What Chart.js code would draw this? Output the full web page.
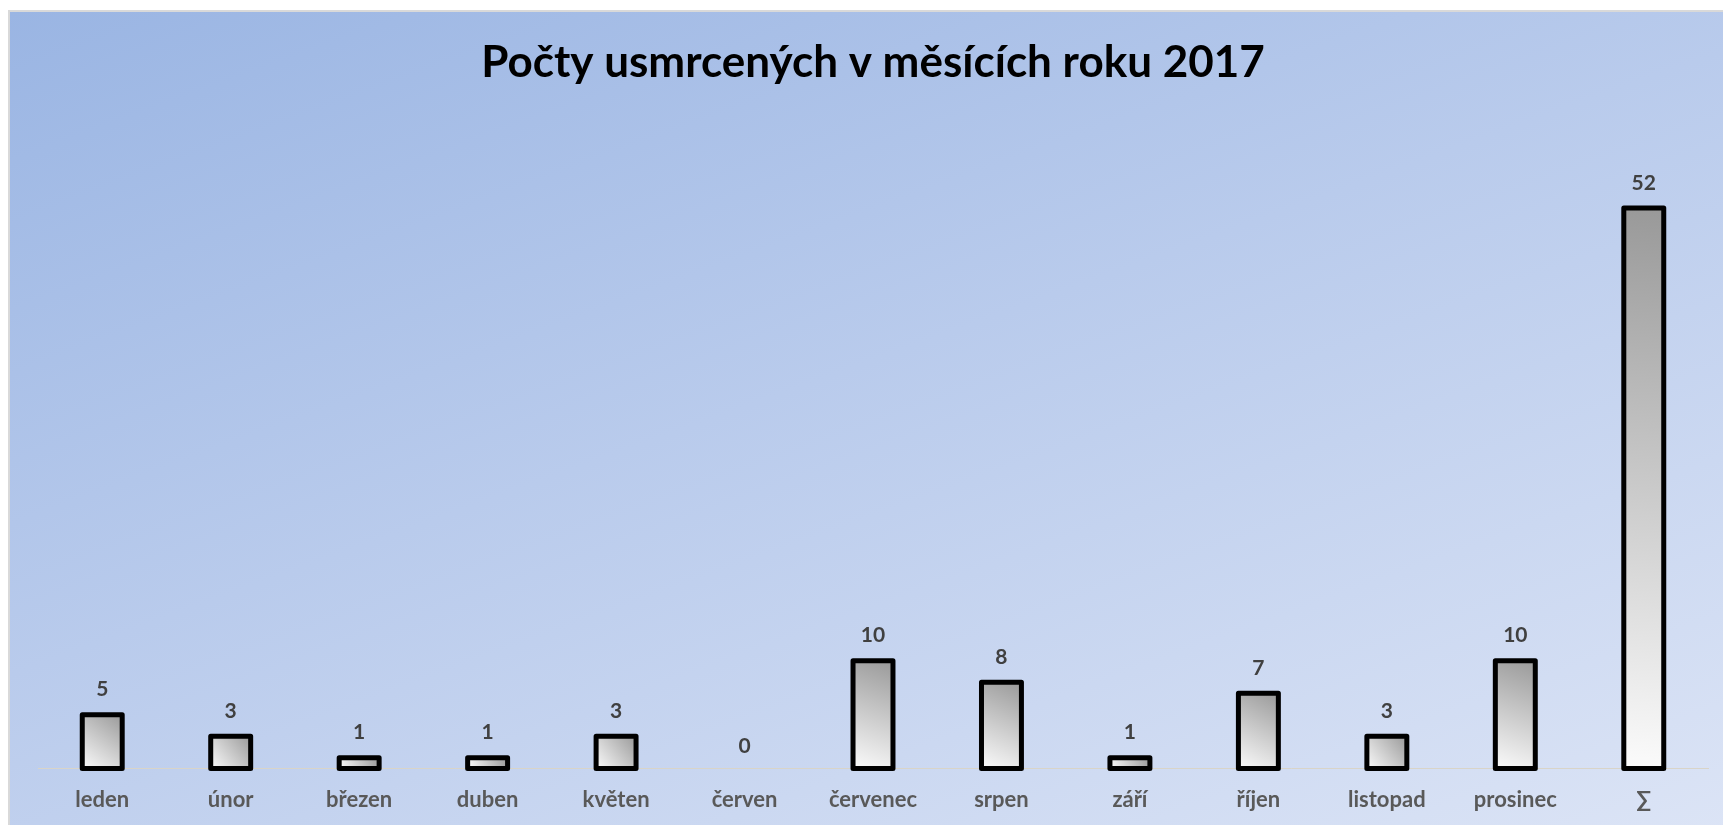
<!DOCTYPE html>
<html>
<head>
<meta charset="utf-8">
<script src="https://cdn.jsdelivr.net/npm/chart.js@4/dist/chart.umd.min.js"></script>
<style>
  html, body { margin: 0; padding: 0; width: 1723px; height: 825px; overflow: hidden; background: #ffffff; }
  #bg { position: absolute; left: 8px; top: 10px; width: 1740px; height: 840px;
        border-left: 2px solid #d9d9d9; border-top: 2px solid #d9d9d9;
        background: linear-gradient(160deg, #9ab5e3 0%, #b9cbec 45%, #dde5f6 100%); }
  #wrap { position: absolute; left: 0; top: 0; width: 1723px; height: 825px; }
</style>
</head>
<body>
<div id="bg"></div>
<div id="wrap"><canvas id="c" width="1723" height="825"></canvas></div>
<script>
const titleText = 'Počty usmrcených v měsících roku 2017';
const categories = ['leden', 'únor', 'březen', 'duben', 'květen', 'červen', 'červenec', 'srpen', 'září', 'říjen', 'listopad', 'prosinec', '∑'];
const values = [5, 3, 1, 1, 3, 0, 10, 8, 1, 7, 3, 10, 52];

const FONT = 'Lato, "Open Sans", sans-serif';
const BAR_PCT = 0.311;
const OUTLINE = 5;

function barGradient(ctx) {
  const chart = ctx.chart;
  const area = chart.chartArea;
  if (!area || !chart.scales.x) return '#cccccc';
  const v = ctx.parsed ? ctx.parsed.y : values[ctx.dataIndex];
  const xs = chart.scales.x, ys = chart.scales.y;
  const cx = xs.getPixelForValue(ctx.dataIndex);
  const half = xs.width / categories.length * BAR_PCT / 2;
  const top = ys.getPixelForValue(v);
  const base = ys.getPixelForValue(0);
  const g = chart.ctx.createLinearGradient(cx + half, top, cx - half, base);
  g.addColorStop(0, '#999999');
  g.addColorStop(1, '#fbfbfb');
  return g;
}

// Excel-style outline: stroke centred on each bar's edge, then the value label above
const barOutlineAndLabels = {
  id: 'barOutlineAndLabels',
  afterDatasetsDraw(chart) {
    const c = chart.ctx;
    const meta = chart.getDatasetMeta(0);
    c.save();
    c.strokeStyle = '#000000';
    c.lineWidth = OUTLINE;
    c.lineJoin = 'round';
    meta.data.forEach((bar, i) => {
      if (values[i] === 0) return;
      const p = bar.getProps(['x', 'y', 'base', 'width'], true);
      const top = Math.min(p.y, p.base);
      const h = Math.abs(p.base - p.y);
      c.strokeRect(p.x - p.width / 2, top, p.width, h);
    });
    c.font = 'bold 21px ' + FONT;
    c.fillStyle = '#404040';
    c.textAlign = 'center';
    c.textBaseline = 'alphabetic';
    meta.data.forEach((bar, i) => {
      const p = bar.getProps(['x', 'y'], true);
      const off = values[i] === 0 ? 16 : 16 + OUTLINE / 2;
      c.fillText(String(values[i]), p.x, p.y - off);
    });
    c.restore();
  }
};

new Chart(document.getElementById('c'), {
  type: 'bar',
  data: {
    labels: categories,
    datasets: [{
      data: values,
      backgroundColor: barGradient,
      borderWidth: 0,
      barPercentage: BAR_PCT,
      categoryPercentage: 1.0
    }]
  },
  options: {
    responsive: false,
    devicePixelRatio: 1,
    animation: false,
    layout: { padding: { left: 38, right: 15, top: 10, bottom: -6 } },
    plugins: {
      legend: { display: false },
      tooltip: { enabled: false },
      title: {
        display: true,
        text: titleText,
        color: '#000000',
        font: { family: FONT, size: 44, weight: 'bold', lineHeight: 1.2 },
        padding: { top: 26, bottom: 33 }
      }
    },
    scales: {
      x: {
        grid: { display: false, drawTicks: false },
        border: { display: true, color: '#d9d4c8', width: 1 },
        ticks: { color: '#595959', font: { family: FONT, size: 22, weight: 'bold', lineHeight: 1.2 }, padding: 18, maxRotation: 0, autoSkip: false }
      },
      y: {
        display: false,
        min: 0,
        max: 60
      }
    }
  },
  plugins: [barOutlineAndLabels]
});
</script>
</body>
</html>
